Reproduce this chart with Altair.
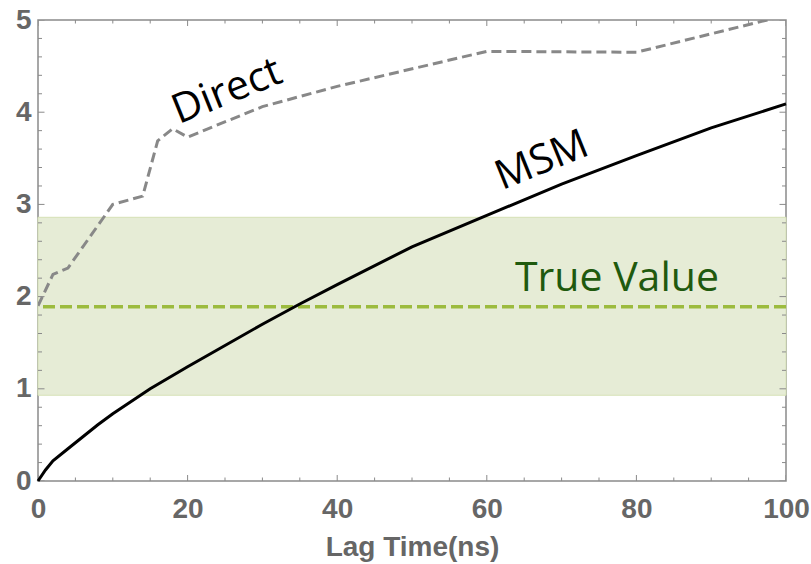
import altair as alt
import pandas as pd

# MSM estimate vs lag time (ns)
msm_lag = [0, 1, 2, 4, 6, 8, 10, 15, 20, 25, 30, 35, 40, 50, 60, 70, 80, 90, 100]
msm_val = [0, 0.12, 0.22, 0.35, 0.48, 0.61, 0.73, 1.00, 1.24, 1.47, 1.70, 1.92,
           2.13, 2.54, 2.88, 3.22, 3.53, 3.83, 4.09]

# Direct estimate vs lag time (ns)
direct_lag = [0, 2, 4, 10, 14, 16, 18, 20, 30, 40, 60, 80, 100]
direct_val = [1.90, 2.24, 2.31, 3.00, 3.09, 3.69, 3.82, 3.73, 4.06, 4.28, 4.66, 4.65, 5.05]

# Reference value and its uncertainty band
true_value = 1.89
true_low = 0.93
true_high = 2.86

# Curve annotations (anchored at the text baseline centre)
ann_text = ["Direct", "MSM", "True Value"]
ann_x = [25.9, 68.0, 77.4]
ann_y = [4.10, 3.35, 2.06]

# Frame tick positions
x_major = [0, 20, 40, 60, 80, 100]
x_minor = [v for v in range(0, 101, 5) if v % 20]
y_major = [0, 1, 2, 3, 4, 5]
y_minor = [i / 5 for i in range(26) if i % 5]

FRAME = "#8a8a8a"
LABEL = "#666666"
AXFONT = "Liberation Sans"
TXTFONT = "Open Sans"

msm_df = pd.DataFrame({"lag": msm_lag, "val": msm_val})
direct_df = pd.DataFrame({"lag": direct_lag, "val": direct_val})
band_df = pd.DataFrame({"lo": [true_low], "hi": [true_high], "mid": [true_value]})
ann_df = pd.DataFrame({"x": ann_x, "y": ann_y, "t": ann_text})

XS = alt.Scale(domain=[0, 100], nice=False, zero=False)
YS = alt.Scale(domain=[0, 5], nice=False, zero=False)

# Label axes (carried by one layer); the frame and its ticks are drawn separately
LEFT = alt.Axis(orient="left", values=y_major, format="d", labelFont=AXFONT,
                labelFontSize=28, labelFontWeight="bold", labelColor=LABEL,
                labelPadding=7, labelFlush=False, ticks=False, tickSize=0,
                domain=False, grid=False, title=None)

BOTTOM = alt.Axis(orient="bottom", values=x_major, format="d", labelFont=AXFONT,
                  labelFontSize=28, labelFontWeight="bold", labelColor=LABEL,
                  labelPadding=14, labelFlush=False, ticks=False, tickSize=0,
                  domain=False, grid=False, title="Lag Time(ns)",
                  titleFont=AXFONT, titleFontSize=28, titleFontWeight="bold",
                  titleColor=LABEL, titleY=74, titleBaseline="alphabetic")

band = alt.Chart(band_df).mark_rect(fill="#e6ecd6", stroke="#d6e2b6", strokeWidth=1).encode(
    y=alt.Y("lo:Q", scale=YS, axis=None),
    y2="hi:Q",
)

truth = alt.Chart(band_df).mark_rule(color="#9cbb3e", strokeWidth=3.5, strokeDash=[12, 5]).encode(
    y=alt.Y("mid:Q", scale=YS, axis=None),
)

direct = alt.Chart(direct_df).mark_line(color="#888888", strokeWidth=3, strokeDash=[10, 5], clip=True).encode(
    x=alt.X("lag:Q", scale=XS, axis=BOTTOM),
    y=alt.Y("val:Q", scale=YS, axis=LEFT),
)

msm = alt.Chart(msm_df).mark_line(color="#000000", strokeWidth=3).encode(
    x=alt.X("lag:Q", scale=XS, axis=None),
    y=alt.Y("val:Q", scale=YS, axis=None),
)


def label(name, color, angle=0):
    base = alt.Chart(ann_df).transform_filter(alt.datum.t == name)
    mark = base.mark_text(font=TXTFONT, fontSize=41, color=color, align="center",
                          baseline="alphabetic", angle=angle)
    return mark.encode(
        x=alt.X("x:Q", scale=XS, axis=None),
        y=alt.Y("y:Q", scale=YS, axis=None),
        text="t:N",
    )


def x_ticks(values, length, at):
    # vertical ticks centred on the frame edge; the outer half is clipped away
    return alt.Chart(pd.DataFrame({"v": values})).mark_tick(
        orient="vertical", size=2 * length, thickness=1, color=FRAME, clip=True, opacity=1
    ).encode(
        x=alt.X("v:Q", scale=XS, axis=None),
        y=alt.YDatum(at, type="quantitative", scale=YS, axis=None),
    )


def y_ticks(values, length, at):
    return alt.Chart(pd.DataFrame({"v": values})).mark_tick(
        orient="horizontal", size=2 * length, thickness=1, color=FRAME, clip=True, opacity=1
    ).encode(
        y=alt.Y("v:Q", scale=YS, axis=None),
        x=alt.XDatum(at, type="quantitative", scale=XS, axis=None),
    )


frame_ticks = [
    x_ticks(x_major, 6, 0), x_ticks(x_minor, 3.5, 0),
    x_ticks(x_major, 6, 5), x_ticks(x_minor, 3.5, 5),
    y_ticks(y_major, 6.5, 0), y_ticks(y_minor, 4, 0),
    y_ticks(y_major, 6.5, 100), y_ticks(y_minor, 4, 100),
]

chart = (
    alt.layer(
        band, truth, *frame_ticks, direct, msm,
        label("Direct", "#000000", angle=338),
        label("MSM", "#000000", angle=338),
        label("True Value", "#1f5a0e"),
    )
    .resolve_axis(x="independent", y="independent")
    .properties(
        width=748,
        height=461,
        autosize=alt.AutoSizeParams(type="none"),
        padding={"left": 38, "top": 20, "right": 25, "bottom": 83},
        background="white",
    )
    .configure_view(stroke=FRAME, strokeWidth=1.5)
)

chart.save("out.html", embed_options={"renderer": "svg", "actions": False})
